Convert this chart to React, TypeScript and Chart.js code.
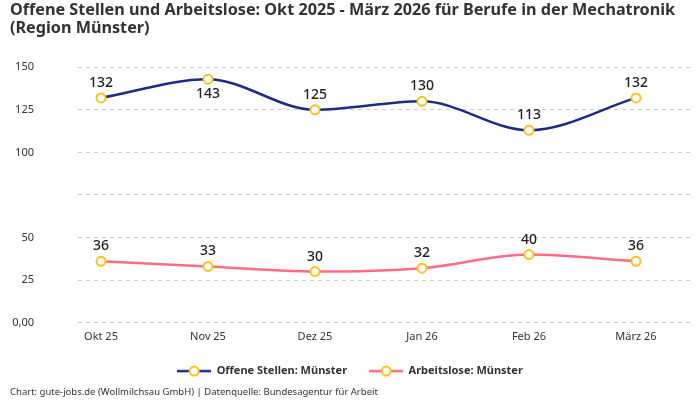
import { useEffect, useRef } from "react"
import { Chart, type ChartConfiguration, type Plugin, registerables } from "chart.js"

Chart.register(...registerables)

const months = ["Okt 25", "Nov 25", "Dez 25", "Jan 26", "Feb 26", "März 26"]
const offeneStellen = [132, 143, 125, 130, 113, 132]
const arbeitslose = [36, 33, 30, 32, 40, 36]

const BLUE = "#1c2b8a"
const PINK = "#ff6b84"
const YELLOW = "#fcc21b"
const FONT = "'Noto Sans', sans-serif"

function legendMarker(color: string) {
  const c = document.createElement("canvas")
  c.width = 34
  c.height = 12
  const g = c.getContext("2d")!
  g.strokeStyle = color
  g.lineWidth = 2.5
  g.beginPath()
  g.moveTo(0, 6)
  g.lineTo(34, 6)
  g.stroke()
  g.fillStyle = "#fff"
  g.strokeStyle = YELLOW
  g.lineWidth = 2
  g.beginPath()
  g.arc(17, 6, 4.5, 0, Math.PI * 2)
  g.fill()
  g.stroke()
  return c
}

// values drawn next to each point, below it when it sits too close to the top
const valueLabels: Plugin = {
  id: "valueLabels",
  afterDatasetsDraw(chart) {
    const ctx = chart.ctx
    ctx.save()
    ctx.font = `500 14px ${FONT}`
    ctx.fillStyle = "#222"
    ctx.textAlign = "center"
    ctx.textBaseline = "middle"
    chart.data.datasets.forEach((ds, i) => {
      const meta = chart.getDatasetMeta(i)
      meta.data.forEach((pt, j) => {
        const v = (ds.data[j] as { y: number }).y
        const below = pt.y - 24 < chart.chartArea.top
        ctx.fillText(String(v), pt.x, below ? pt.y + 15 : pt.y - 15)
      })
    })
    ctx.restore()
  },
}

export default function App() {
  const canvasRef = useRef<HTMLCanvasElement>(null)

  useEffect(() => {
    document.body.style.margin = "0"
    if (!canvasRef.current) return

    const markers = [legendMarker(BLUE), legendMarker(PINK)]

    const config: ChartConfiguration<"line"> = {
      type: "line",
      data: {
        datasets: [
          {
            label: "Offene Stellen: Münster",
            data: offeneStellen.map((v, i) => ({ x: i, y: v })),
            borderColor: BLUE,
            borderWidth: 2.5,
            cubicInterpolationMode: "monotone",
            pointRadius: 4.5,
            pointBorderWidth: 2,
            pointBackgroundColor: "#fff",
            pointBorderColor: YELLOW,
          },
          {
            label: "Arbeitslose: Münster",
            data: arbeitslose.map((v, i) => ({ x: i, y: v })),
            borderColor: PINK,
            borderWidth: 2.5,
            cubicInterpolationMode: "monotone",
            pointRadius: 4.5,
            pointBorderWidth: 2,
            pointBackgroundColor: "#fff",
            pointBorderColor: YELLOW,
          },
        ],
      },
      options: {
        animation: false,
        responsive: false,
        layout: { padding: { left: 10, right: 10, top: 1, bottom: 2 } },
        font: { family: FONT },
        plugins: {
          title: {
            display: true,
            text: [
              "Offene Stellen und Arbeitslose: Okt 2025 - März 2026 für Berufe in der Mechatronik",
              "(Region Münster)",
            ],
            align: "start",
            color: "#333",
            font: { family: FONT, size: 16.2, weight: "bold", lineHeight: 1.12 },
            padding: { top: 0, bottom: 30 },
          },
          subtitle: {
            display: true,
            position: "bottom",
            align: "start",
            text: "Chart: gute-jobs.de (Wollmilchsau GmbH) | Datenquelle: Bundesagentur für Arbeit",
            color: "#333",
            font: { family: FONT, size: 9.5 },
            padding: { top: 6, bottom: 0 },
          },
          legend: {
            position: "bottom",
            maxHeight: 37,
            labels: {
              usePointStyle: true,
              pointStyleWidth: 34,
              padding: 22,
              color: "#333",
              font: { family: FONT, size: 11, weight: "bold" },
              generateLabels: (chart) =>
                Chart.defaults.plugins.legend.labels
                  .generateLabels(chart)
                  .map((item, i) => ({ ...item, pointStyle: markers[i] })),
            },
          },
          tooltip: { enabled: false },
        },
        scales: {
          x: {
            type: "linear",
            min: -0.215,
            max: 5.505,
            afterFit: (s) => {
              s.height = 21
            },
            grid: { display: false, drawTicks: false },
            border: { display: false },
            ticks: {
              stepSize: 1,
              includeBounds: false,
              color: "#333",
              font: { family: FONT, size: 11 },
              padding: 8,
              callback: (v) => months[Number(v)] ?? "",
            },
          },
          y: {
            min: 0,
            max: 150,
            afterFit: (s) => {
              s.width = 68
            },
            border: { display: false, dash: [4, 4] },
            grid: { color: "#cccccc", drawTicks: false },
            ticks: {
              stepSize: 25,
              padding: 44,
              color: "#333",
              font: { family: FONT, size: 11 },
              callback: (v) => (v === 0 ? "0,00" : v === 75 ? "" : String(v)),
            },
          },
        },
      },
      plugins: [valueLabels],
    }

    const chart = new Chart(canvasRef.current, config)
    return () => chart.destroy()
  }, [])

  return (
    <div style={{ width: 700, height: 400 }}>
      <canvas ref={canvasRef} width={700} height={400}></canvas>
    </div>
  )
}
